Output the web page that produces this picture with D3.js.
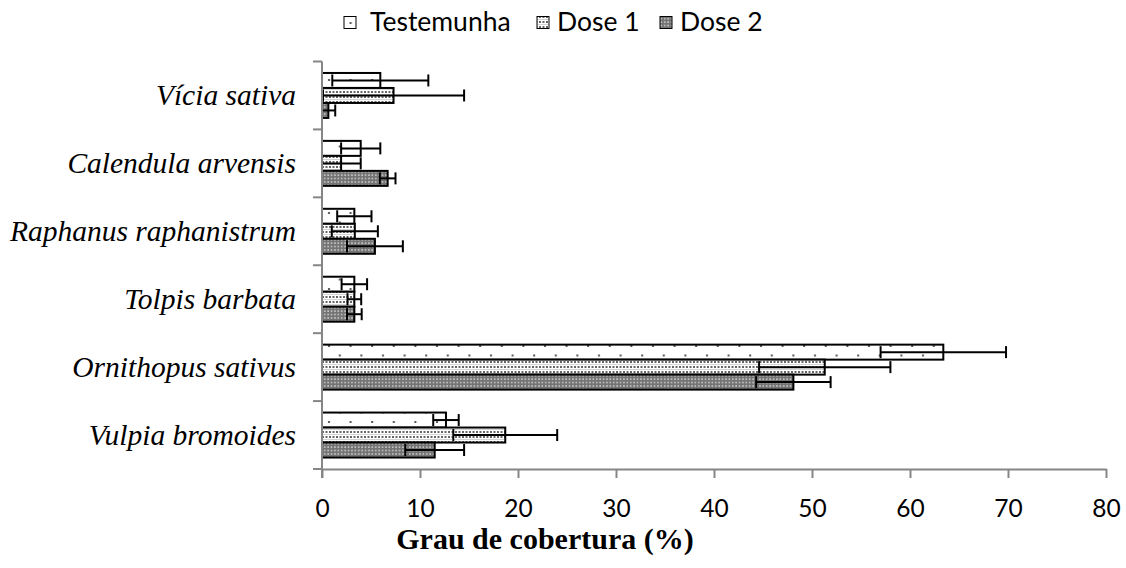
<!DOCTYPE html>
<html>
<head>
<meta charset="utf-8">
<script src="https://cdn.jsdelivr.net/npm/d3@7"></script>
<style>
  body { margin: 0; background: #fff; }
  svg { display: block; }
  .tick-label { font-family: Lato, 'Open Sans', sans-serif; font-size: 24.5px; fill: #000; }
  .cat-label { font-family: 'Liberation Serif', 'Times New Roman', serif; font-style: italic; font-size: 29.5px; fill: #000; }
  .axis-title { font-family: 'Liberation Serif', 'Times New Roman', serif; font-weight: bold; font-size: 30px; fill: #000; }
  .legend-label { font-family: Lato, 'Open Sans', sans-serif; font-size: 26.5px; fill: #000; }
</style>
</head>
<body>
<svg id="chart" width="1126" height="568"></svg>
<script>
"use strict";

var categories = ['Vícia sativa', 'Calendula arvensis', 'Raphanus raphanistrum',
  'Tolpis barbata', 'Ornithopus sativus', 'Vulpia bromoides'];
var series = ['Testemunha', 'Dose 1', 'Dose 2'];

// mean cover (%) per category, one array per treatment
var testemunha = [5.95, 3.95, 3.3, 3.3, 63.4, 12.65];
var dose1 = [7.3, 1.95, 3.35, 3.3, 51.3, 18.7];
var dose2 = [0.65, 6.7, 5.4, 3.3, 48.1, 11.5];

// error bar half-widths
var testemunha_err = [4.9, 2.0, 1.75, 1.3, 6.4, 1.3];
var dose1_err = [7.2, 2.0, 2.35, 0.7, 6.7, 5.3];
var dose2_err = [0.7, 0.8, 2.85, 0.75, 3.8, 3.0];

var x_ticks = [0, 10, 20, 30, 40, 50, 60, 70, 80];

function _make_patterns(defs) {
  // sparse staggered dots
  var p0 = defs.append('pattern').attr('id', 'pat0')
    .attr('patternUnits', 'userSpaceOnUse').attr('width', 21.6).attr('height', 19);
  p0.append('rect').attr('width', 21.6).attr('height', 19).attr('fill', '#fff');
  p0.append('rect').attr('x', 4).attr('y', 3).attr('width', 2).attr('height', 2).attr('fill', '#555');
  p0.append('rect').attr('x', 14.8).attr('y', 12.5).attr('width', 2).attr('height', 2).attr('fill', '#555');

  // light dotted grid
  var p1 = defs.append('pattern').attr('id', 'pat1')
    .attr('patternUnits', 'userSpaceOnUse').attr('width', 7).attr('height', 5);
  p1.append('rect').attr('width', 7).attr('height', 5).attr('fill', '#fff');
  p1.append('rect').attr('x', 0).attr('y', 1).attr('width', 2).attr('height', 2).attr('fill', '#666');
  p1.append('rect').attr('x', 3.5).attr('y', 1).attr('width', 2).attr('height', 2).attr('fill', '#666');
  p1.append('rect').attr('x', 0).attr('y', 4).attr('width', 7).attr('height', 1).attr('fill', '#d4d4d4');

  // dark checker
  var p2 = defs.append('pattern').attr('id', 'pat2')
    .attr('patternUnits', 'userSpaceOnUse').attr('width', 3.4).attr('height', 3.4);
  p2.append('rect').attr('width', 3.4).attr('height', 3.4).attr('fill', '#747474');
  p2.append('rect').attr('x', 1).attr('y', 1).attr('width', 1.5).attr('height', 1.5).attr('fill', '#cfcfcf');
}

function _draw_plot(svg) {
  var values = [testemunha, dose1, dose2];
  var errors = [testemunha_err, dose1_err, dose2_err];
  var fills = ['url(#pat0)', 'url(#pat1)', 'url(#pat2)'];

  var rows = [];
  categories.forEach(function (c, i) {
    series.forEach(function (s, j) {
      rows.push({ cat: c, ser: s, idx: j, value: values[j][i], err: errors[j][i] });
    });
  });

  var left = 322, right = 1106, top = 61.5, bottom = 469;

  var xscale = d3.scaleLinear().domain([0, 80]).range([left, right]);
  var yscale = d3.scaleBand().domain(categories).range([top, bottom]);
  var inner = d3.scaleBand().domain(series).range([0, yscale.bandwidth()])
    .paddingInner(0).paddingOuter(0.765);

  var defs = svg.append('defs');
  _make_patterns(defs);

  // bars
  var bars = svg.append('g').attr('class', 'bars');
  bars.selectAll('rect')
    .data(rows)
    .enter().append('rect')
    .attr('x', xscale(0))
    .attr('y', d => yscale(d.cat) + inner(d.ser))
    .attr('width', d => xscale(d.value) - xscale(0))
    .attr('height', inner.bandwidth())
    .attr('fill', d => fills[d.idx])
    .attr('stroke', '#000')
    .attr('stroke-width', 2);

  // error bars
  var capH = 12;
  var errs = svg.append('g').attr('class', 'errors')
    .attr('stroke', '#000').attr('stroke-width', 2).attr('fill', 'none');
  rows.forEach(function (d) {
    var cy = yscale(d.cat) + inner(d.ser) + inner.bandwidth() / 2;
    var x1 = xscale(Math.max(0, d.value - d.err));
    var x2 = xscale(d.value + d.err);
    errs.append('line').attr('x1', x1).attr('x2', x2).attr('y1', cy).attr('y2', cy);
    errs.append('line').attr('x1', x1).attr('x2', x1).attr('y1', cy - capH / 2).attr('y2', cy + capH / 2);
    errs.append('line').attr('x1', x2).attr('x2', x2).attr('y1', cy - capH / 2).attr('y2', cy + capH / 2);
  });

  // x axis
  var xaxis = d3.axisBottom(xscale).tickValues(x_ticks).tickSize(9).tickSizeOuter(0).tickFormat('');
  var gx = svg.append('g')
    .attr('transform', 'translate(0,' + bottom + ')')
    .call(xaxis);
  gx.selectAll('path, line').attr('stroke', '#868686').attr('stroke-width', 2);
  gx.selectAll('.tick').append('text')
    .attr('class', 'tick-label')
    .attr('y', 48)
    .attr('text-anchor', 'middle')
    .text(d => d);

  // y axis: ticks at band boundaries
  var boundaries = categories.map(c => yscale(c)).concat([bottom]);
  var gy = svg.append('g').attr('class', 'axis y');
  gy.append('line')
    .attr('x1', left).attr('x2', left).attr('y1', top).attr('y2', bottom + 9)
    .attr('stroke', '#868686').attr('stroke-width', 2);
  gy.selectAll('line.tk')
    .data(boundaries)
    .enter().append('line')
    .attr('class', 'tk')
    .attr('x1', left - 9).attr('x2', left)
    .attr('y1', d => d).attr('y2', d => d)
    .attr('stroke', '#868686').attr('stroke-width', 2);

  svg.append('g').selectAll('text')
    .data(categories)
    .enter().append('text')
    .attr('class', 'cat-label')
    .attr('x', 296)
    .attr('y', d => yscale(d) + yscale.bandwidth() / 2 + 9.5)
    .attr('text-anchor', 'end')
    .text(d => d);

  svg.append('text')
    .attr('class', 'axis-title')
    .attr('x', 545)
    .attr('y', 549)
    .attr('text-anchor', 'middle')
    .text('Grau de cobertura (%)');

  // legend
  var legend_x = [344, 537, 660];
  var legend_tx = [370, 557, 680];
  var lg = svg.append('g').attr('class', 'legend');
  series.forEach(function (s, j) {
    lg.append('rect')
      .attr('x', legend_x[j]).attr('y', 16.5)
      .attr('width', 12).attr('height', 12)
      .attr('fill', fills[j])
      .attr('stroke', '#000').attr('stroke-width', 1);
    lg.append('text')
      .attr('class', 'legend-label')
      .attr('x', legend_tx[j])
      .attr('y', 31)
      .text(s);
  });
}

var svg = d3.select('#chart');
_draw_plot(svg);
</script>
</body>
</html>
